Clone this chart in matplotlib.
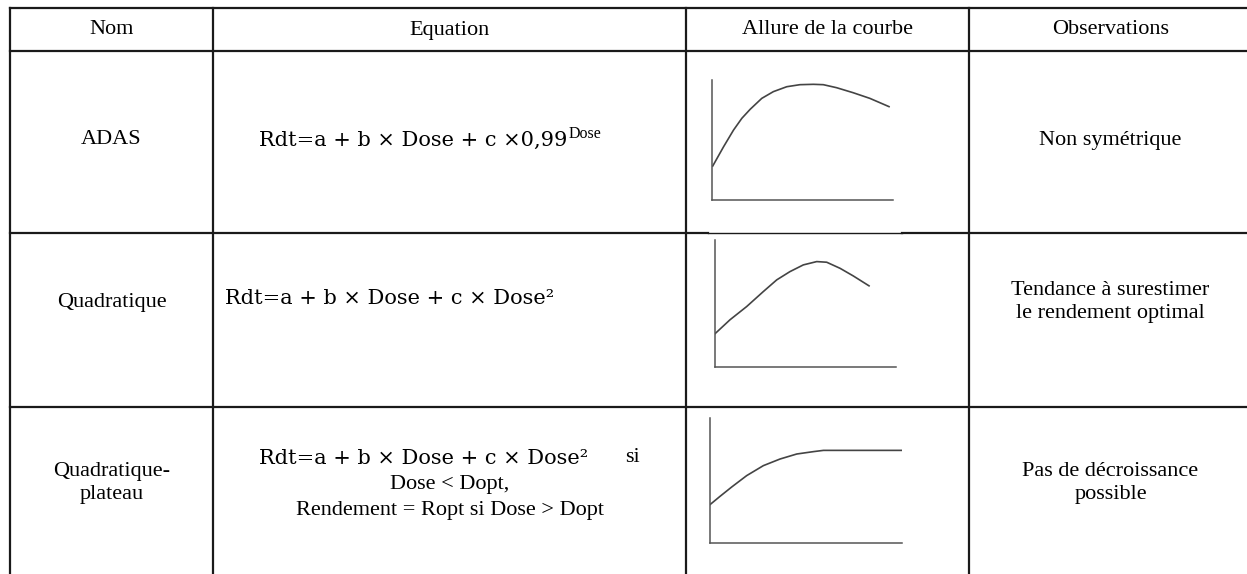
import matplotlib.pyplot as plt

W, H = 1247, 574

# table content
headers = ["Nom", "Equation", "Allure de la courbe", "Observations"]
names = ["ADAS", "Quadratique", "Quadratique-\nplateau"]
observations = ["Non symétrique",
                "Tendance à surestimer\nle rendement optimal",
                "Pas de décroissance\npossible"]

# curve sketches (fraction of the small axes)
adas_dose = [0.004, 0.064, 0.119, 0.165, 0.211, 0.275, 0.339, 0.413, 0.486,
             0.560, 0.615, 0.688, 0.780, 0.872, 0.978]
adas_rdt = [0.283, 0.444, 0.583, 0.681, 0.756, 0.847, 0.903, 0.944, 0.961,
            0.964, 0.961, 0.936, 0.894, 0.847, 0.778]

quad_dose = [0.0, 0.083, 0.175, 0.267, 0.341, 0.414, 0.488, 0.562, 0.617,
             0.691, 0.764, 0.851]
quad_rdt = [0.262, 0.372, 0.476, 0.594, 0.686, 0.751, 0.804, 0.830, 0.825,
            0.777, 0.717, 0.639]

plat_dose = [0.0, 0.052, 0.113, 0.191, 0.278, 0.365, 0.452, 0.539, 0.591, 1.0]
plat_rdt = [0.307, 0.373, 0.448, 0.539, 0.619, 0.672, 0.712, 0.731, 0.741, 0.741]

# grid lines (pixels)
col_x = [10, 213, 686, 969, 1252]
row_y = [8, 51, 233, 407, 580]

serif = 'Liberation Serif'
eq_font = 'DejaVu Serif'
fs = 16
eq_fs = 15

fig = plt.figure(figsize=(W / 100, H / 100), dpi=100)
ax = fig.add_axes([0, 0, 1, 1])
ax.set_xlim(0, W)
ax.set_ylim(H, 0)
ax.axis('off')

line_kw = dict(color='#1a1a1a', lw=1.6)
for y in row_y:
    if y == 233:
        # the picture in the third column covers part of this line
        ax.plot([col_x[0], 708], [y, y], **line_kw)
        ax.plot([902, col_x[-1]], [y, y], **line_kw)
        ax.plot([708, 902], [y, y], color='#1a1a1a', lw=1.0)
    else:
        ax.plot([col_x[0], col_x[-1]], [y, y], **line_kw)
for x in col_x:
    ax.plot([x, x], [row_y[0], row_y[-1]], **line_kw)

# header
for i, h in enumerate(headers):
    cx = (col_x[i] + col_x[i + 1]) / 2
    ax.text(cx, 30, h, ha='center', va='center', family=serif, fontsize=fs)

row_cy = [140, 302, 483]
cx1 = (col_x[0] + col_x[1]) / 2
cx4 = (col_x[3] + col_x[4]) / 2
for r in range(3):
    ax.text(cx1, row_cy[r], names[r], ha='center', va='center', family=serif,
            fontsize=fs, linespacing=1.3)
    ax.text(cx4, row_cy[r], observations[r], ha='center', va='center',
            family=serif, fontsize=fs, linespacing=1.3)

# equations
cx2 = (col_x[1] + col_x[2]) / 2
base = ax.text(259, 140, "Rdt=a + b × Dose + c ×0,99", ha='left',
               va='center', family=eq_font, fontsize=eq_fs)
fig.canvas.draw()
bb = base.get_window_extent()
ax.text(bb.x1 + 1, 134, "Dose", ha='left', va='center', family=serif,
        fontsize=11.5)

ax.text(225, 298, "Rdt=a + b × Dose + c × Dose²", ha='left', va='center',
        family=eq_font, fontsize=eq_fs)
ax.text(588, 458, "Rdt=a + b × Dose + c × Dose²", ha='right', va='center',
        family=eq_font, fontsize=eq_fs)
ax.text(625, 458, "si", ha='left', va='center', family=serif, fontsize=fs)
ax.text(cx2, 484, "Dose < Dopt,", ha='center', va='center', family=serif,
        fontsize=fs)
ax.text(cx2, 510, "Rendement = Ropt si Dose > Dopt", ha='center', va='center',
        family=serif, fontsize=fs)

# little curve sketches
boxes = [(712, 80, 893, 200), (715, 240, 896, 367), (710, 418, 902, 543)]
curves = [(adas_dose, adas_rdt), (quad_dose, quad_rdt), (plat_dose, plat_rdt)]
for (x0, y0, x1, y1), (d, r) in zip(boxes, curves):
    sub = fig.add_axes([x0 / W, 1 - y1 / H, (x1 - x0) / W, (y1 - y0) / H])
    sub.plot(d, r, color='#444444', lw=1.2)
    sub.set_xlim(0, 1)
    sub.set_ylim(0, 1)
    sub.set_xticks([])
    sub.set_yticks([])
    sub.spines['top'].set_visible(False)
    sub.spines['right'].set_visible(False)
    for s in ('left', 'bottom'):
        sub.spines[s].set_color('#555555')
        sub.spines[s].set_linewidth(1.1)
    sub.patch.set_alpha(0)

fig.savefig('out.png', dpi=100)
